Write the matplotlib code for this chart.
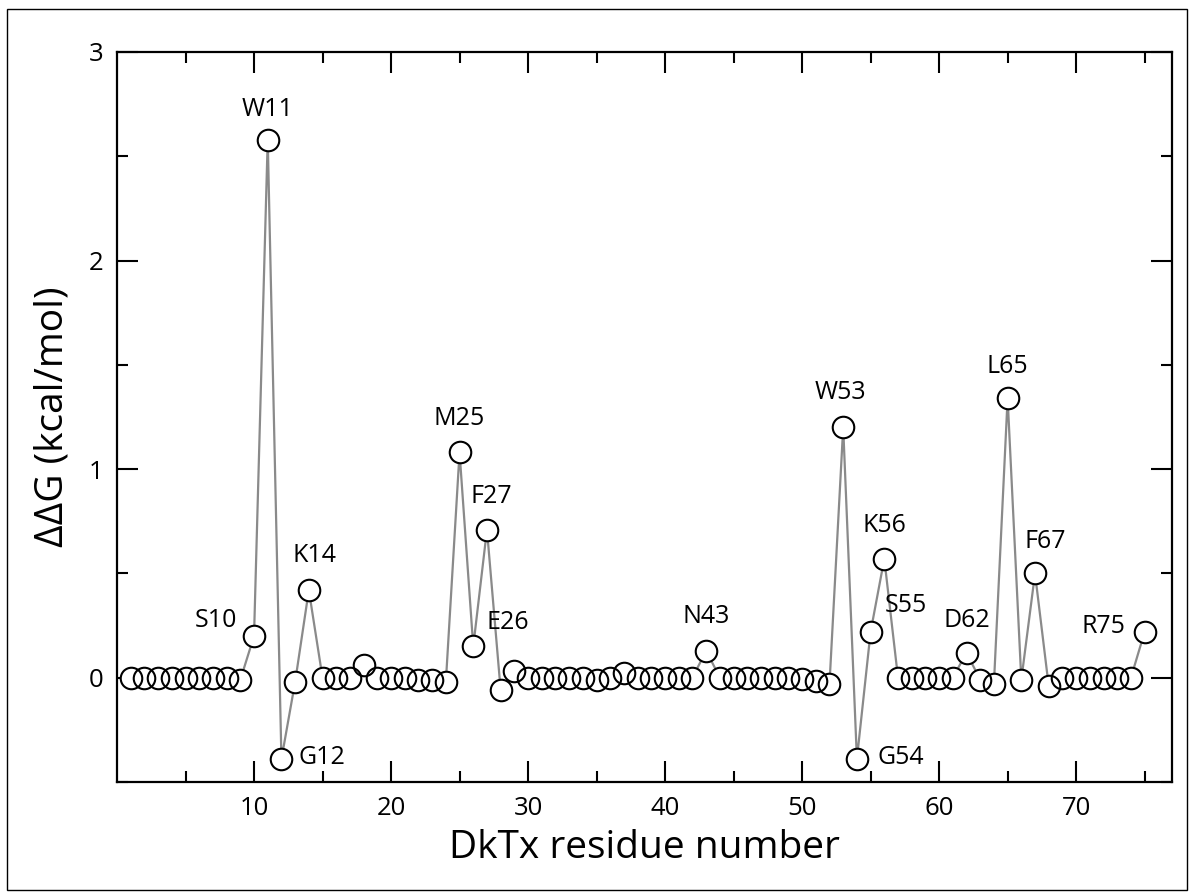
import numpy as np
from matplotlib import pyplot as plt
from matplotlib.patches import Rectangle

plt.rcParams['font.family'] = ['Open Sans', 'DejaVu Sans']

# residue numbers and ddG values (kcal/mol)
residues = np.arange(1, 76)
ddg = [0, 0, 0, 0, 0, 0, 0, 0, -0.01, 0.20,
       2.58, -0.39, -0.02, 0.42, 0, 0, 0, 0.06, 0, 0,
       0, -0.01, -0.01, -0.02, 1.08, 0.15, 0.71, -0.06, 0.03, 0,
       0, 0, 0, 0, -0.01, 0, 0.025, 0, 0, 0,
       0, 0, 0.13, 0, 0, 0, 0, 0, 0, -0.005,
       -0.015, -0.03, 1.20, -0.39, 0.22, 0.57, 0, 0, 0, 0,
       0, 0.12, -0.01, -0.03, 1.34, -0.01, 0.50, -0.04, 0, 0,
       0, 0, 0, 0, 0.22]

label_names = ['S10', 'W11', 'G12', 'K14', 'M25', 'E26', 'F27', 'N43',
               'W53', 'G54', 'S55', 'K56', 'D62', 'L65', 'F67', 'R75']
label_res = [10, 11, 12, 14, 25, 26, 27, 43, 53, 54, 55, 56, 62, 65, 67, 75]

# label offsets from the point (pixels, x right / y up)
offsets = {'S10': (-38, 16), 'W11': (0, 30), 'G12': (41, 2), 'K14': (6, 35),
           'M25': (0, 34), 'E26': (35, 24), 'F27': (4, 33), 'N43': (0, 34),
           'W53': (-3, 35), 'G54': (44, 2), 'S55': (35, 26), 'K56': (0, 33),
           'D62': (0, 32), 'L65': (0, 32), 'F67': (10, 32), 'R75': (-41, 5)}

fig = plt.figure(figsize=(11.94, 8.96), dpi=100)
ax = fig.add_axes([0.098, 0.1272, 0.8836, 0.8148])

ax.plot(residues, ddg, '-', color='#8a8a8a', linewidth=1.6, zorder=1)
ax.plot(residues, ddg, 'o', markersize=15.5, markerfacecolor='white',
        markeredgecolor='white', markeredgewidth=0, linestyle='none', zorder=2)
ax.plot(residues, ddg, 'o', markersize=15.5, markerfacecolor='none',
        markeredgecolor='black', markeredgewidth=1.5, linestyle='none', zorder=3)

for name, r in zip(label_names, label_res):
    dx, dy = offsets[name]
    ax.annotate(name, (r, ddg[r - 1]), xytext=(dx * 0.72, dy * 0.72),
                textcoords='offset points', ha='center', va='center',
                fontsize=18, zorder=4)

ax.set_xlim(0, 77)
ax.set_ylim(-0.5, 3)
ax.set_xticks([10, 20, 30, 40, 50, 60, 70])
ax.set_xticks(np.arange(5, 77, 5), minor=True)
ax.set_yticks([0, 1, 2, 3])
ax.set_yticks([-0.5, 0.5, 1.5, 2.5], minor=True)
ax.tick_params(which='both', direction='in', top=True, right=True,
               width=1.5, labelsize=18.5, pad=10)
ax.tick_params(which='major', length=15)
ax.tick_params(which='minor', length=8)
for s in ax.spines.values():
    s.set_linewidth(1.6)

ax.set_xlabel('DkTx residue number', fontsize=28, labelpad=6)
ax.set_ylabel('\u0394\u0394G (kcal/mol)', fontsize=28, labelpad=12)

fig.patches.append(Rectangle((0.006, 0.007), 0.988, 0.983, transform=fig.transFigure,
                             fill=False, edgecolor='black', linewidth=1))

plt.savefig('out.png', dpi=100)
